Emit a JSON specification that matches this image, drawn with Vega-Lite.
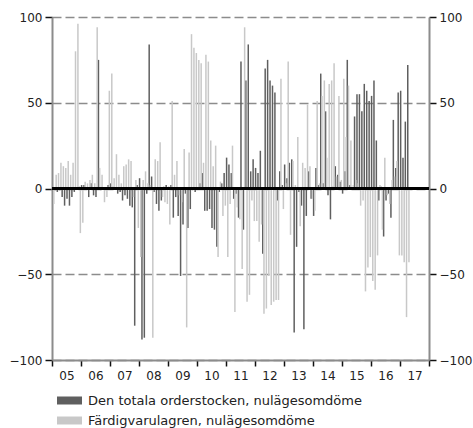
{
"$schema":"https://vega.github.io/schema/vega-lite/v6.json",
"width":377,"height":343,"autosize":"none",
"padding":{"left":52,"top":17,"right":44,"bottom":68},
"config":{"view":{"stroke":null},"font":"DejaVu Sans","axis":{"labelOverlap":false},
 "axisX":{"labelOffset":14.5,"labelAlign":"center","labelFlush":false,"labelOverlap":false,"labelBound":false,
    "labelFont":"DejaVu Sans","labelFontSize":12,"labelColor":"#222222","labelPadding":4,
    "grid":false,"domainColor":"#8c8c8c","domainWidth":2,"tickColor":"#111111","tickWidth":1.5,"tickSize":6}},
"data":{"values":[
{"date":"2005-01-01","order":0,"lager":-9},{"date":"2005-02-01","order":-1,"lager":8},{"date":"2005-03-01","order":-2,"lager":9},{"date":"2005-04-01","order":-1,"lager":15},{"date":"2005-05-01","order":-5,"lager":13},{"date":"2005-06-01","order":-10,"lager":12},{"date":"2005-07-01","order":-6,"lager":16},{"date":"2005-08-01","order":-10,"lager":8},{"date":"2005-09-01","order":-5,"lager":15},{"date":"2005-10-01","order":-2,"lager":80},{"date":"2005-11-01","order":0,"lager":96},{"date":"2005-12-01","order":1,"lager":-26},
{"date":"2006-01-01","order":2,"lager":-20},{"date":"2006-02-01","order":2,"lager":4},{"date":"2006-03-01","order":0,"lager":3},{"date":"2006-04-01","order":-5,"lager":5},{"date":"2006-05-01","order":3,"lager":8},{"date":"2006-06-01","order":-4,"lager":3},{"date":"2006-07-01","order":-5,"lager":94},{"date":"2006-08-01","order":75,"lager":12},{"date":"2006-09-01","order":-1,"lager":8},{"date":"2006-10-01","order":0,"lager":-8},{"date":"2006-11-01","order":0,"lager":-5},{"date":"2006-12-01","order":2,"lager":57},
{"date":"2007-01-01","order":3,"lager":67},{"date":"2007-02-01","order":1,"lager":6},{"date":"2007-03-01","order":0,"lager":20},{"date":"2007-04-01","order":-3,"lager":8},{"date":"2007-05-01","order":-2,"lager":3},{"date":"2007-06-01","order":-7,"lager":13},{"date":"2007-07-01","order":-4,"lager":14},{"date":"2007-08-01","order":-6,"lager":17},{"date":"2007-09-01","order":-10,"lager":16},{"date":"2007-10-01","order":-11,"lager":-5},{"date":"2007-11-01","order":-80,"lager":5},{"date":"2007-12-01","order":2,"lager":-23},
{"date":"2008-01-01","order":6,"lager":-40},{"date":"2008-02-01","order":-88,"lager":5},{"date":"2008-03-01","order":-87,"lager":10},{"date":"2008-04-01","order":-3,"lager":3},{"date":"2008-05-01","order":84,"lager":2},{"date":"2008-06-01","order":7,"lager":-87},{"date":"2008-07-01","order":-2,"lager":17},{"date":"2008-08-01","order":-9,"lager":16},{"date":"2008-09-01","order":-13,"lager":27},{"date":"2008-10-01","order":-7,"lager":-5},{"date":"2008-11-01","order":1,"lager":-8},{"date":"2008-12-01","order":2,"lager":-9},
{"date":"2009-01-01","order":1,"lager":-21},{"date":"2009-02-01","order":2,"lager":51},{"date":"2009-03-01","order":-17,"lager":8},{"date":"2009-04-01","order":-5,"lager":16},{"date":"2009-05-01","order":-16,"lager":-4},{"date":"2009-06-01","order":-51,"lager":-8},{"date":"2009-07-01","order":-21,"lager":23},{"date":"2009-08-01","order":-3,"lager":-81},{"date":"2009-09-01","order":-23,"lager":21},{"date":"2009-10-01","order":-12,"lager":90},{"date":"2009-11-01","order":-1,"lager":82},{"date":"2009-12-01","order":-2,"lager":79},
{"date":"2010-01-01","order":0,"lager":75},{"date":"2010-02-01","order":3,"lager":73},{"date":"2010-03-01","order":9,"lager":15},{"date":"2010-04-01","order":-13,"lager":78},{"date":"2010-05-01","order":-13,"lager":74},{"date":"2010-06-01","order":-12,"lager":28},{"date":"2010-07-01","order":-23,"lager":13},{"date":"2010-08-01","order":-24,"lager":25},{"date":"2010-09-01","order":-34,"lager":-40},{"date":"2010-10-01","order":-2,"lager":4},{"date":"2010-11-01","order":3,"lager":-16},{"date":"2010-12-01","order":9,"lager":-10},
{"date":"2011-01-01","order":18,"lager":-40},{"date":"2011-02-01","order":14,"lager":-9},{"date":"2011-03-01","order":9,"lager":25},{"date":"2011-04-01","order":-6,"lager":-72},{"date":"2011-05-01","order":-3,"lager":-11},{"date":"2011-06-01","order":-17,"lager":-18},{"date":"2011-07-01","order":74,"lager":-47},{"date":"2011-08-01","order":-24,"lager":94},{"date":"2011-09-01","order":63,"lager":-66},{"date":"2011-10-01","order":84,"lager":-62},{"date":"2011-11-01","order":10,"lager":-7},{"date":"2011-12-01","order":17,"lager":-19},
{"date":"2012-01-01","order":12,"lager":-19},{"date":"2012-02-01","order":9,"lager":-31},{"date":"2012-03-01","order":22,"lager":-21},{"date":"2012-04-01","order":-38,"lager":-73},{"date":"2012-05-01","order":70,"lager":-70},{"date":"2012-06-01","order":75,"lager":-51},{"date":"2012-07-01","order":63,"lager":-68},{"date":"2012-08-01","order":60,"lager":-66},{"date":"2012-09-01","order":56,"lager":-65},{"date":"2012-10-01","order":-7,"lager":-65},{"date":"2012-11-01","order":10,"lager":64},{"date":"2012-12-01","order":2,"lager":-12},
{"date":"2013-01-01","order":14,"lager":3},{"date":"2013-02-01","order":6,"lager":74},{"date":"2013-03-01","order":15,"lager":-27},{"date":"2013-04-01","order":17,"lager":16},{"date":"2013-05-01","order":-84,"lager":2},{"date":"2013-06-01","order":-34,"lager":30},{"date":"2013-07-01","order":-2,"lager":-22},{"date":"2013-08-01","order":-10,"lager":15},{"date":"2013-09-01","order":-82,"lager":12},{"date":"2013-10-01","order":-16,"lager":49},{"date":"2013-11-01","order":10,"lager":13},{"date":"2013-12-01","order":-6,"lager":-6},
{"date":"2014-01-01","order":-16,"lager":-13},{"date":"2014-02-01","order":12,"lager":51},{"date":"2014-03-01","order":2,"lager":3},{"date":"2014-04-01","order":67,"lager":54},{"date":"2014-05-01","order":3,"lager":63},{"date":"2014-06-01","order":45,"lager":18},{"date":"2014-07-01","order":-4,"lager":61},{"date":"2014-08-01","order":-18,"lager":63},{"date":"2014-09-01","order":1,"lager":73},{"date":"2014-10-01","order":13,"lager":7},{"date":"2014-11-01","order":8,"lager":54},{"date":"2014-12-01","order":4,"lager":5},
{"date":"2015-01-01","order":-3,"lager":64},{"date":"2015-02-01","order":10,"lager":30},{"date":"2015-03-01","order":75,"lager":60},{"date":"2015-04-01","order":2,"lager":28},{"date":"2015-05-01","order":0,"lager":2},{"date":"2015-06-01","order":42,"lager":5},{"date":"2015-07-01","order":55,"lager":3},{"date":"2015-08-01","order":55,"lager":-10},{"date":"2015-09-01","order":45,"lager":-7},{"date":"2015-10-01","order":61,"lager":-60},{"date":"2015-11-01","order":57,"lager":-46},{"date":"2015-12-01","order":51,"lager":-40},
{"date":"2016-01-01","order":54,"lager":-54},{"date":"2016-02-01","order":63,"lager":-59},{"date":"2016-03-01","order":28,"lager":-39},{"date":"2016-04-01","order":-7,"lager":2},{"date":"2016-05-01","order":1,"lager":-24},{"date":"2016-06-01","order":-28,"lager":18},{"date":"2016-07-01","order":-7,"lager":-4},{"date":"2016-08-01","order":-3,"lager":-9},{"date":"2016-09-01","order":-17,"lager":5},{"date":"2016-10-01","order":40,"lager":7},{"date":"2016-11-01","order":12,"lager":16},{"date":"2016-12-01","order":56,"lager":-39},
{"date":"2017-01-01","order":57,"lager":-39},{"date":"2017-02-01","order":18,"lager":-43},{"date":"2017-03-01","order":39,"lager":-75},{"date":"2017-04-01","order":72,"lager":-43}
]},
"layer":[
{"mark":{"type":"bar","width":1.5,"xOffset":-0.6},
 "encoding":{
  "x":{"field":"date","type":"temporal","timeUnit":"utcyearmonth",
   "scale":{"type":"utc","domain":[1104537600000,1514764800000]},
   "axis":{"title":null,"labelOverlap":false,"values":[1104537600000,1136073600000,1167609600000,1199145600000,1230768000000,1262304000000,1293840000000,1325376000000,1356998400000,1388534400000,1420070400000,1451606400000,1483228800000,1514764800000],
    "labelExpr":"utcyear(datum.value) > 2017 ? '' : utcFormat(datum.value, '%y')"}},
  "y":{"field":"order","type":"quantitative","scale":{"domain":[-100,100],"nice":false},
   "axis":{"title":null,"orient":"left","values":[-100,-50,0,50,100],"grid":true,"gridDash":[9,4],"gridColor":"#8c8c8c","gridWidth":1.5,
    "domainColor":"#8c8c8c","domainWidth":2,"tickColor":"#111111","tickWidth":1.5,"tickSize":7,
    "labelFont":"DejaVu Sans","labelFontSize":12,"labelColor":"#222222","labelPadding":3}},
  "color":{"datum":"Den totala orderstocken, nulägesomdöme",
   "scale":{"domain":["Den totala orderstocken, nulägesomdöme","Färdigvarulagren, nulägesomdöme"],"range":["#5f5f5f","#c8c8c8"]},
   "legend":{"title":null,"orient":"none","legendX":5,"legendY":371,"direction":"vertical",
    "symbolType":"M-1,-0.32H1V0.32H-1Z","symbolSize":625,"symbolStrokeWidth":0,
    "labelFont":"DejaVu Sans","labelFontSize":13,"labelColor":"#222222","labelLimit":400,"rowPadding":0,"labelOffset":6}}}},
{"mark":{"type":"bar","width":1.5,"xOffset":0.6},
 "encoding":{
  "x":{"field":"date","type":"temporal","timeUnit":"utcyearmonth",
   "axis":{"title":null,"labelOverlap":false,"values":[1104537600000,1136073600000,1167609600000,1199145600000,1230768000000,1262304000000,1293840000000,1325376000000,1356998400000,1388534400000,1420070400000,1451606400000,1483228800000,1514764800000],
    "labelExpr":"utcyear(datum.value) > 2017 ? '' : utcFormat(datum.value, '%y')"}},
  "y":{"field":"lager","type":"quantitative","scale":{"domain":[-100,100],"nice":false},
   "axis":{"title":null,"orient":"right","values":[-100,-50,0,50,100],"grid":false,
    "domainColor":"#8c8c8c","domainWidth":2,"tickColor":"#111111","tickWidth":1.5,"tickSize":7,
    "labelFont":"DejaVu Sans","labelFontSize":12,"labelColor":"#222222","labelPadding":3}},
  "color":{"datum":"Färdigvarulagren, nulägesomdöme"}}},
{"mark":{"type":"rule","color":"#000000","strokeWidth":2},
 "encoding":{"y":{"datum":0,"type":"quantitative","scale":{"domain":[-100,100],"nice":false},"axis":null}}}
],
"resolve":{"scale":{"y":"independent"}}
}
